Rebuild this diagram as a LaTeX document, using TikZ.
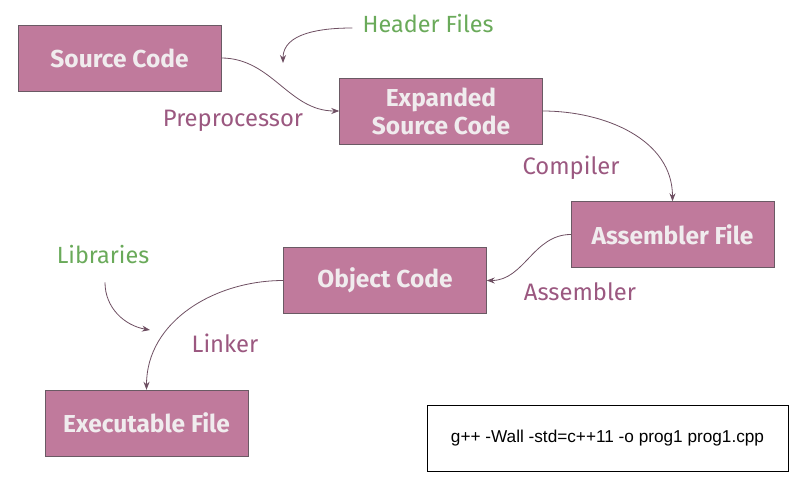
\documentclass[tikz,border=0pt]{standalone}
\usepackage{fontspec}
\setmainfont{Fira Sans}
\newfontfamily\cmdfont{Liberation Sans}
\usetikzlibrary{arrows.meta}
\definecolor{boxfill}{RGB}{192,122,156}
\definecolor{boxline}{RGB}{106,90,100}
\definecolor{boxtext}{RGB}{240,236,238}
\definecolor{steptext}{RGB}{155,88,128}
\definecolor{inputtext}{RGB}{106,170,90}
\definecolor{flowline}{RGB}{110,79,98}
\begin{document}
\begin{tikzpicture}[x=1pt,y=1pt]
  \tikzset{filebox/.style = {shape=rectangle,draw=boxline,fill=boxfill,text=boxtext,
      minimum width=203pt,minimum height=66pt,inner sep=2pt,align=center,
      font=\fontsize{24.5}{28}\selectfont\bfseries}}
  \tikzset{steplabel/.style = {text=steptext,inner sep=0pt,font=\fontsize{23.8}{26}\selectfont}}
  \tikzset{inputlabel/.style = {text=inputtext,inner sep=0pt,font=\fontsize{23.4}{26}\selectfont}}
  \tikzset{flow/.style = {draw=flowline,line width=0.8pt,-{Stealth[length=8pt,width=6pt]}}}
  \useasboundingbox (0,0) rectangle (800,-487);
	\node[filebox] (src) at (119.5,-58) {Source Code};
	\node[filebox] (exp) at (441,-111) {Expanded\\Source Code};
	\node[filebox] (asm) at (672.5,-234.5) {Assembler File};
	\node[filebox] (obj) at (385,-280.5) {Object Code};
	\node[filebox] (exe) at (146.5,-423) {Executable File};
	\node[draw,minimum width=361pt,minimum height=66pt,line width=0.8pt,
	  font=\cmdfont\fontsize{17.2}{20}\selectfont] (cmd) at (607.5,-438)
	  {g++ -Wall -std=c++11 -o prog1 prog1.cpp};

	\node[inputlabel] (hdr) at (428,-24) {Header Files};
	\node[inputlabel] (lib) at (103,-255) {Libraries};
	\node[steplabel] (pre) at (233,-121) {Preprocessor};
	\node[steplabel] (cmp) at (571,-168) {Compiler};
	\node[steplabel] (asl) at (580,-292) {Assembler};
	\node[steplabel] (lnk) at (225,-343) {Linker};

	\coordinate (hdrin) at (283,-63);
	\coordinate (libin) at (150,-330);

    \foreach \from/\to/\o/\i in {src.east/exp.west/0/180,exp.east/asm.north/0/90,
        asm.west/obj.east/180/0,obj.west/exe.north/180/90}
    \draw[flow] (\from) to[out=\o,in=\i] (\to);
    \draw[flow] ([xshift=-10pt,yshift=-4pt]hdr.west) to[out=180,in=90] (hdrin);
    \draw[flow] ([xshift=2pt,yshift=-18pt]lib.south) to[out=-90,in=170] (libin);

\end{tikzpicture}
\end{document}
